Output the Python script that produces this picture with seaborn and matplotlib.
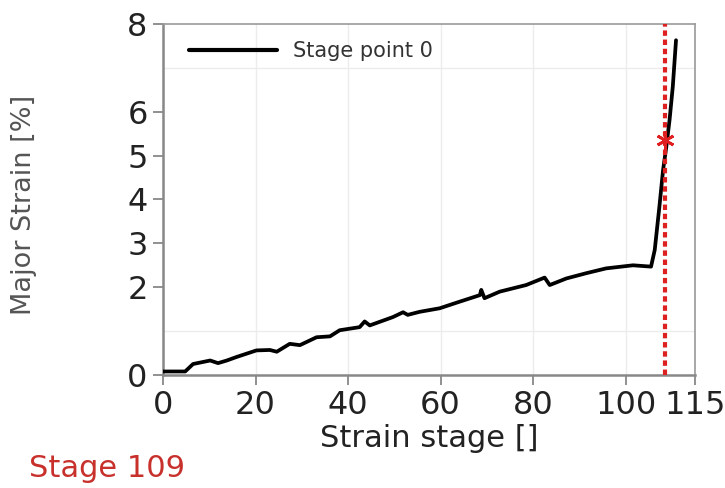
import pandas as pd
import seaborn as sns
from matplotlib import pyplot as plt

# values
stage = [0, 4.8, 6.5, 10.2, 11.9, 13.8, 15.9, 20.2, 23.1, 24.6, 27.4, 29.6, 33.2, 36.1,
         38.2, 42.5, 43.6, 44.7, 49.7, 51.9, 52.9, 55.5, 59.8, 64.1, 68.5, 68.8, 69.5,
         72.8, 78.5, 82.5, 83.6, 87.2, 91.5, 95.8, 101.6, 105.5, 106.3, 107.3, 108.1,
         108.8, 109.5, 110.2, 110.9]
major_strain = [0.08, 0.08, 0.25, 0.33, 0.27, 0.33, 0.41, 0.56, 0.57, 0.53, 0.71, 0.68,
                0.86, 0.88, 1.02, 1.09, 1.22, 1.13, 1.32, 1.43, 1.37, 1.44, 1.52, 1.67,
                1.82, 1.94, 1.75, 1.90, 2.05, 2.22, 2.05, 2.20, 2.32, 2.43, 2.50, 2.47,
                2.85, 3.83, 4.67, 5.20, 5.81, 6.57, 7.63]
current_stage = 108.6
current_strain = 5.35
x_ticks = [0, 20, 40, 60, 80, 100, 115]
y_ticks = [0, 2, 3, 4, 5, 6, 8]
y_grid = [1, 2, 3, 4, 5, 6, 7]

df = pd.DataFrame({"stage": stage, "strain": major_strain, "series": "Stage point 0"})

sns.set_style("white")
plt.rcParams['font.family'] = ['DejaVu Sans']

fig = plt.figure(figsize=(7.25, 4.88), dpi=100)
ax = fig.add_axes([0.2248, 0.2316, 0.7338, 0.7192])

sns.lineplot(data=df, x="stage", y="strain", hue="series", palette=["black"],
             linewidth=2.7, estimator=None, ax=ax, zorder=3)

# current stage marker
ax.axvline(current_stage, color="#dd2020", linestyle=(0, (1.3, 0.9)), linewidth=3, zorder=4)
ax.plot([current_stage], [current_strain], marker=(6, 2, 0), color="#e02020",
        markersize=13, markeredgewidth=2, zorder=5)

ax.set_xlim(0, 115)
ax.set_ylim(0, 8)
ax.set_xticks(x_ticks)
ax.set_yticks(y_ticks)
ax.set_yticks(y_grid, minor=True)
ax.grid(True, axis="x", which="major", color="#ececec", linewidth=1)
ax.grid(True, axis="y", which="minor", color="#ececec", linewidth=1)
ax.tick_params(axis="both", which="major", direction="out", length=7, width=1.3,
               color="#888888", labelsize=23, labelcolor="#222222", pad=4, left=True, bottom=True)
ax.tick_params(axis="y", which="minor", length=0)

for side in ["left", "bottom"]:
    ax.spines[side].set_color("#888888")
    ax.spines[side].set_linewidth(1.8)
for side in ["top", "right"]:
    ax.spines[side].set_color("#999999")
    ax.spines[side].set_linewidth(1.2)

ax.set_xlabel("Strain stage []", fontsize=22, color="#222222", labelpad=2)
ax.set_ylabel("")
fig.text(0.033, 0.58, "Major Strain [%]", rotation=90, fontsize=19.5, color="#555555",
         ha="center", va="center")

leg = ax.legend(loc="upper left", frameon=False, fontsize=15, handlelength=4.2,
                bbox_to_anchor=(0.01, 1.01), borderaxespad=0.6, handletextpad=0.8)
for t in leg.get_texts():
    t.set_color("#333333")
for h in leg.get_lines():
    h.set_linewidth(3)

fig.text(0.04, 0.04, "Stage 109", fontsize=22, color="#c8302c", ha="left", va="center")

plt.savefig("out.png", dpi=100)
